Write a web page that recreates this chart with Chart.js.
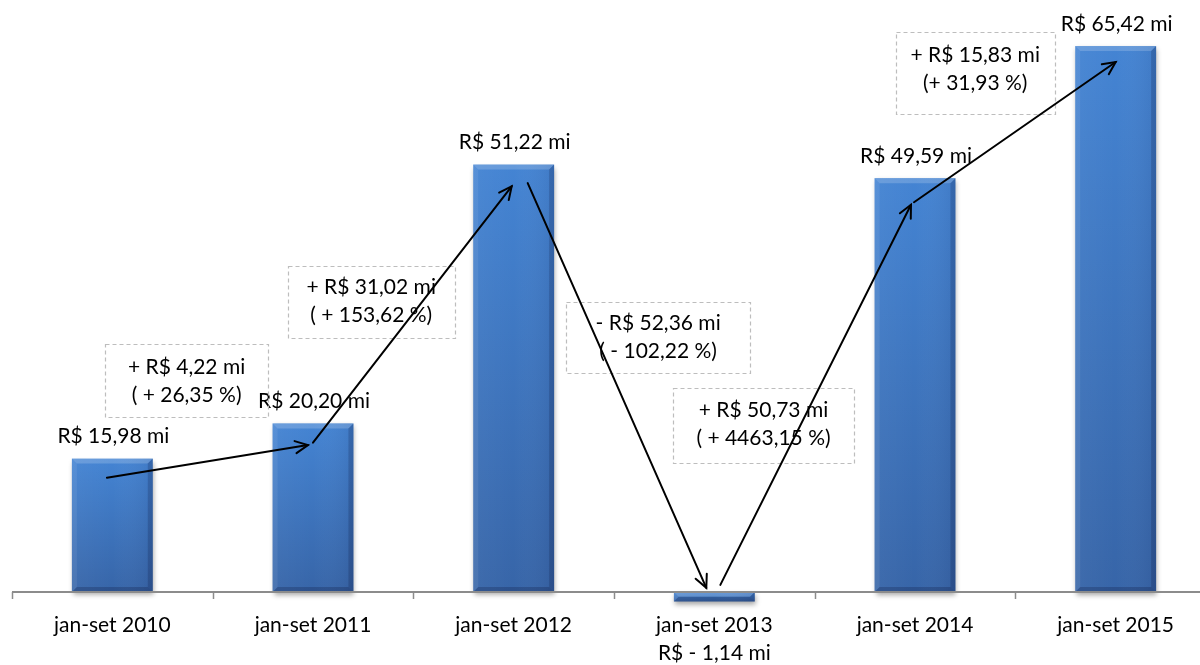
<!DOCTYPE html>
<html>
<head>
<meta charset="utf-8">
<script src="https://cdn.jsdelivr.net/npm/chart.js@4.4.1/dist/chart.umd.min.js"></script>
<style>
  html, body { margin: 0; padding: 0; background: #fff; overflow: hidden; width: 1200px; height: 665px; }
  #wrap { position: absolute; left: 0; top: 0; width: 1216px; height: 665px; }
</style>
</head>
<body>
<div id="wrap"><canvas id="c" width="1216" height="665"></canvas></div>
<script>
// ---- data ----
const categories = ['jan-set 2010', 'jan-set 2011', 'jan-set 2012', 'jan-set 2013', 'jan-set 2014', 'jan-set 2015'];
const values = [15.98, 20.20, 51.22, -1.14, 49.59, 65.42];
const valueLabels = ['R$ 15,98 mi', 'R$ 20,20 mi', 'R$ 51,22 mi', 'R$ - 1,14 mi', 'R$ 49,59 mi', 'R$ 65,42 mi'];
const changeAbs = ['+ R$ 4,22 mi', '+ R$ 31,02 mi', '- R$ 52,36 mi', '+ R$ 50,73 mi', '+ R$ 15,83 mi'];
const changePct = ['( + 26,35 %)', '( + 153,62 %)', '( - 102,22 %)', '( + 4463,15 %)', '(+ 31,93 %)'];

// ---- annotation layout (in category-index / value units) ----
const arrows = [
  { from: [-0.027, 13.7], to: [0.975, 17.6] },
  { from: [1.0, 17.9], to: [1.99, 48.6] },
  { from: [2.07, 49.0], to: [2.96, 0.5] },
  { from: [3.03, 0.85], to: [3.98, 46.4] },
  { from: [3.995, 46.7], to: [5.0, 63.5] }
];
const boxes = [
  { cx: 0.37, cy: 25.3, w: 163, h: 73, dy: 0 },
  { cx: 1.29, cy: 34.7, w: 167, h: 72, dy: -1 },
  { cx: 2.72, cy: 30.55, w: 184, h: 71, dy: 0 },
  { cx: 3.245, cy: 20.0, w: 181, h: 75, dy: -1 },
  { cx: 4.30, cy: 62.2, w: 159, h: 82, dy: -4 }
];

const FONT = '21px Lato, "Liberation Sans", sans-serif';

const drawPlugin = {
  id: 'custom',
  afterDatasetsDraw(chart) {
    const ctx = chart.ctx;
    const meta = chart.getDatasetMeta(0);
    meta.data.forEach((bar) => {
      const left = bar.x - bar.width / 2, right = bar.x + bar.width / 2;
      const top = Math.min(bar.y, bar.base), bottom = Math.max(bar.y, bar.base);
      const w = right - left, h = bottom - top;
      ctx.save();
      // shadow
      ctx.shadowColor = 'rgba(0,0,0,0.35)';
      ctx.shadowBlur = 5;
      ctx.shadowOffsetX = 1;
      ctx.shadowOffsetY = 3;
      const g = ctx.createLinearGradient(0, top, 0, bottom);
      g.addColorStop(0, '#4484d3');
      g.addColorStop(1, '#3765a8');
      ctx.fillStyle = g;
      ctx.fillRect(left, top, w, h);
      ctx.restore();
      ctx.save();
      // horizontal shading (slightly lighter left, darker right)
      const hg = ctx.createLinearGradient(left, 0, right, 0);
      hg.addColorStop(0, 'rgba(255,255,255,0.04)');
      hg.addColorStop(0.5, 'rgba(255,255,255,0)');
      hg.addColorStop(1, 'rgba(0,0,40,0.08)');
      ctx.fillStyle = hg;
      ctx.fillRect(left, top, w, h);
      const b = Math.min(5, h / 2);
      // top bevel
      ctx.fillStyle = 'rgba(255,255,255,0.18)';
      ctx.beginPath();
      ctx.moveTo(left, top); ctx.lineTo(right, top); ctx.lineTo(right - b, top + b); ctx.lineTo(left + b, top + b); ctx.closePath(); ctx.fill();
      // left bevel
      ctx.fillStyle = 'rgba(255,255,255,0.07)';
      ctx.beginPath();
      ctx.moveTo(left, top); ctx.lineTo(left + b, top + b); ctx.lineTo(left + b, bottom - b); ctx.lineTo(left, bottom); ctx.closePath(); ctx.fill();
      // right bevel
      ctx.fillStyle = 'rgba(0,0,30,0.16)';
      ctx.beginPath();
      ctx.moveTo(right, top); ctx.lineTo(right - b, top + b); ctx.lineTo(right - b, bottom - b); ctx.lineTo(right, bottom); ctx.closePath(); ctx.fill();
      // bottom bevel
      ctx.fillStyle = 'rgba(0,0,30,0.20)';
      ctx.beginPath();
      ctx.moveTo(left, bottom); ctx.lineTo(left + b, bottom - b); ctx.lineTo(right - b, bottom - b); ctx.lineTo(right, bottom); ctx.closePath(); ctx.fill();
      ctx.restore();
    });

    const xs = chart.scales.x, ys = chart.scales.y;
    const y0 = ys.getPixelForValue(0);
    // axis line
    ctx.save();
    ctx.strokeStyle = '#8c8c8c';
    ctx.lineWidth = 2;
    ctx.beginPath();
    ctx.moveTo(xs.left, y0); ctx.lineTo(xs.right, y0); ctx.stroke();
    ctx.lineWidth = 1.5;
    for (let i = 0; i <= categories.length; i++) {
      const x = Math.round(xs.getPixelForValue(i - 0.5)) + 0.5;
      ctx.beginPath(); ctx.moveTo(x, y0); ctx.lineTo(x, y0 + 7); ctx.stroke();
    }
    ctx.restore();

    // category labels and value labels
    ctx.save();
    ctx.font = FONT;
    ctx.fillStyle = '#000';
    ctx.textAlign = 'center';
    ctx.textBaseline = 'middle';
    categories.forEach((c, i) => {
      ctx.fillText(c, xs.getPixelForValue(i), y0 + 33);
    });
    meta.data.forEach((bar, i) => {
      if (values[i] >= 0) {
        ctx.fillText(valueLabels[i], bar.x + 1, bar.y - 22);
      } else {
        ctx.fillText(valueLabels[i], bar.x, y0 + 61);
      }
    });
    ctx.restore();

    // dashed boxes
    ctx.save();
    ctx.font = FONT;
    ctx.textAlign = 'center';
    ctx.textBaseline = 'middle';
    boxes.forEach((bx, i) => {
      const cx = xs.getPixelForValue(bx.cx), cy = ys.getPixelForValue(bx.cy);
      ctx.strokeStyle = '#bdbdbd';
      ctx.lineWidth = 1.2;
      ctx.setLineDash([4, 3]);
      ctx.strokeRect(Math.round(cx - bx.w / 2) + 0.5, Math.round(cy - bx.h / 2) + 0.5, bx.w, bx.h);
      ctx.setLineDash([]);
      ctx.fillStyle = '#000';
      ctx.fillText(changeAbs[i], cx, cy - 14 + bx.dy);
      ctx.fillText(changePct[i], cx, cy + 14 + bx.dy);
    });
    ctx.restore();

    // arrows
    ctx.save();
    ctx.strokeStyle = '#000';
    ctx.lineWidth = 2;
    ctx.lineCap = 'round';
    arrows.forEach((a) => {
      const x1 = xs.getPixelForValue(a.from[0]), y1 = ys.getPixelForValue(a.from[1]);
      const x2 = xs.getPixelForValue(a.to[0]), y2 = ys.getPixelForValue(a.to[1]);
      ctx.beginPath(); ctx.moveTo(x1, y1); ctx.lineTo(x2, y2); ctx.stroke();
      const ang = Math.atan2(y2 - y1, x2 - x1);
      const L = 14, sp = 0.45;
      ctx.beginPath();
      ctx.moveTo(x2 - L * Math.cos(ang - sp), y2 - L * Math.sin(ang - sp));
      ctx.lineTo(x2, y2);
      ctx.lineTo(x2 - L * Math.cos(ang + sp), y2 - L * Math.sin(ang + sp));
      ctx.stroke();
    });
    ctx.restore();
  }
};

new Chart(document.getElementById('c'), {
  type: 'bar',
  data: {
    labels: categories,
    datasets: [{
      data: values,
      backgroundColor: 'rgba(0,0,0,0)',
      borderWidth: 0,
      barPercentage: 0.403,
      categoryPercentage: 1.0
    }]
  },
  options: {
    responsive: false,
    animation: false,
    devicePixelRatio: 1,
    layout: { padding: { left: 12, right: 0, top: 7.8, bottom: 31.3 } },
    plugins: { legend: { display: false }, tooltip: { enabled: false } },
    scales: {
      x: { display: false, offset: true },
      y: { display: false, min: -5, max: 70 }
    }
  },
  plugins: [drawPlugin]
});
</script>
</body>
</html>
